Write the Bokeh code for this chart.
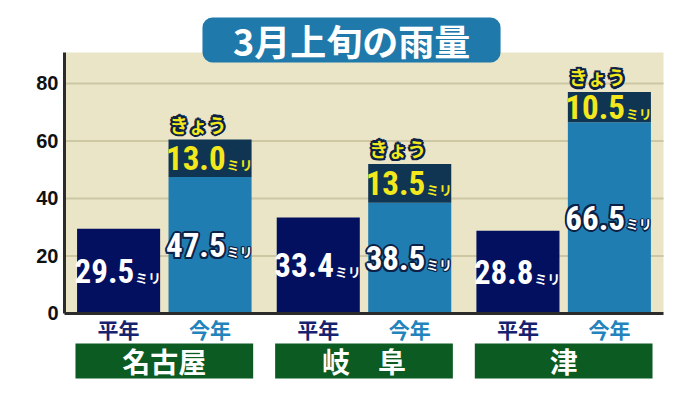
import subprocess
import numpy as np
from bokeh.plotting import figure
from bokeh.models import Range1d, FixedTicker, Label
from bokeh.core.properties import value
from bokeh.embed import file_html
from bokeh.resources import INLINE

# ---------------- data ----------------
title_text = "3月上旬の雨量"
cities = ["名古屋", "岐　阜", "津"]
series_labels = ["平年", "今年"]
normal = [29.5, 33.4, 28.8]            # 平年
this_year_before = [47.5, 38.5, 66.5]  # 今年 (きのうまで)
today = [13.0, 13.5, 10.5]             # きょう
y_ticks = [0, 20, 40, 60, 80]
unit = "ミリ"
unit_axis = "(ミリ)"
today_label = "きょう"

# ---------------- fonts ----------------
try:
    fams = subprocess.run(["fc-list", ":", "family"], capture_output=True, text=True).stdout
except Exception:
    fams = ""
NUM = "Roboto"
for cand in ["Roboto Condensed", "Barlow Condensed", "Archivo Narrow", "Liberation Sans Narrow"]:
    if cand in fams:
        NUM = cand
        break
NUM_SIZE = "33px" if NUM != "Roboto" else "29px"
JP = "Noto Sans CJK JP"

# ---------------- style ----------------
C_NORMAL = "#03105F"
C_THIS = "#1F7DB1"
C_TODAY = "#0F3553"
C_BEIGE = "#E9E5C6"
C_GRID = "#CDC8A3"
C_GREEN = "#0B5B22"
C_YELLOW = "#F3E81C"
C_OUT = "#0C2146"

W, H = 700, 393
p = figure(width=W, height=H, output_backend="svg", toolbar_location=None,
           x_range=Range1d(-0.02, 3.1853), y_range=Range1d(-27.83, 108.87),
           x_axis_location=None, min_border_left=60, min_border_right=0,
           min_border_top=0, min_border_bottom=0)
p.background_fill_color = "white"
p.border_fill_color = "white"
p.outline_line_color = None
p.grid.visible = False

ax = p.yaxis[0]
ax.ticker = FixedTicker(ticks=y_ticks)
ax.axis_line_color = None
ax.major_tick_line_color = None
ax.minor_tick_line_color = None
ax.major_tick_out = 0
ax.major_tick_in = 0
ax.major_label_text_font = "Liberation Sans"
ax.major_label_text_font_style = "bold"
ax.major_label_text_font_size = "20px"
ax.major_label_text_color = "#111111"
ax.major_label_standoff = 2

n = len(cities)
top_val = 90.8
idx = np.arange(n)
xc = idx + 0.5
bw = 0.416
x_norm = xc - 0.229
x_this = xc + 0.229
normal_a = np.array(normal)
before_a = np.array(this_year_before)
today_a = np.array(today)
totals = before_a + today_a

OFFS = [(-2, 0), (2, 0), (0, -2), (0, 2), (-1.5, -1.5), (1.5, -1.5), (-1.5, 1.5), (1.5, 1.5)]

# plot background + grid
p.quad(left=0, right=n, bottom=0, top=top_val, fill_color=C_BEIGE, line_color=None)
p.segment(x0=[0] * 4, x1=[n] * 4, y0=y_ticks[1:], y1=y_ticks[1:], line_color=C_GRID, line_width=2)

# title box
p.quad(left=0.691, right=2.184, bottom=87.3, top=102.96, fill_color="#1F79AB",
       line_color=None, border_radius=10)
p.text(x=[1.4375], y=[95.1], text=[title_text], text_align="center", text_baseline="middle",
       text_font=value(JP), text_font_style="bold", text_font_size="36px", text_color="white")

# bars
p.vbar(x=x_norm, bottom=0, top=normal_a, width=bw, fill_color=C_NORMAL, line_color=None)
p.vbar(x=x_this, bottom=0, top=before_a, width=bw, fill_color=C_THIS, line_color=None)
p.vbar(x=x_this, bottom=before_a, top=totals, width=bw, fill_color=C_TODAY, line_color=None)

# axis lines
p.segment(x0=[0], y0=[0], x1=[0], y1=[top_val], line_color="#2B2B2B", line_width=3)
p.segment(x0=[0], y0=[0], x1=[n], y1=[0], line_color="#2B2B2B", line_width=3)

NUM_DY = 0
UNIT_DY = 6


def value_labels(xs, mids, vals, color, outline=None):
    txt = [f"{v:.1f}" for v in vals]
    units = [unit] * len(txt)
    if outline:
        for dx, dy in OFFS:
            p.text(x=xs + 0.078, y=mids, text=txt, text_align="right", text_baseline="middle",
                   x_offset=dx, y_offset=NUM_DY + dy, text_font=value(NUM), text_font_style="bold",
                   text_font_size=NUM_SIZE, text_color=outline)
            p.text(x=xs + 0.082, y=mids, text=units, text_align="left", text_baseline="middle",
                   x_offset=dx * 0.6, y_offset=UNIT_DY + dy * 0.6, text_font=value(JP),
                   text_font_style="bold", text_font_size="13px", text_color=outline)
    p.text(x=xs + 0.078, y=mids, text=txt, text_align="right", text_baseline="middle",
           y_offset=NUM_DY, text_font=value(NUM), text_font_style="bold", text_font_size=NUM_SIZE,
           text_color=color)
    p.text(x=xs + 0.082, y=mids, text=units, text_align="left", text_baseline="middle",
           y_offset=UNIT_DY, text_font=value(JP), text_font_style="bold", text_font_size="13px",
           text_color=color)


value_labels(x_norm, normal_a / 2, normal, "white")
value_labels(x_this, before_a / 2, this_year_before, "white", outline=C_OUT)
value_labels(x_this, (before_a + totals) / 2, today, C_YELLOW)

# きょう labels with dark outline
for dx, dy in [(-2.5, 0), (2.5, 0), (0, -2.5), (0, 2.5), (-1.8, -1.8), (1.8, -1.8), (-1.8, 1.8), (1.8, 1.8)]:
    p.text(x=x_this - bw / 2, y=totals, text=[today_label] * n, text_align="left", text_baseline="bottom",
           x_offset=dx + 1, y_offset=-2 + dy, text_font=value(JP), text_font_style="bold",
           text_font_size="19px", text_color=C_OUT)
p.text(x=x_this - bw / 2, y=totals, text=[today_label] * n, text_align="left", text_baseline="bottom",
       x_offset=1, y_offset=-2, text_font=value(JP), text_font_style="bold", text_font_size="19px",
       text_color=C_YELLOW)

# series labels under bars
p.text(x=x_norm, y=[-5.4] * n, text=[series_labels[0]] * n, text_align="center", text_baseline="middle",
       text_font=value(JP), text_font_style="bold", text_font_size="21px", text_color="#17226E")
p.text(x=x_this, y=[-5.4] * n, text=[series_labels[1]] * n, text_align="center", text_baseline="middle",
       text_font=value(JP), text_font_style="bold", text_font_size="21px", text_color="#2383BC")

# city boxes
p.quad(left=idx + 0.055, right=idx + 0.945, bottom=-22.6, top=-10.43, fill_color=C_GREEN, line_color=None)
p.text(x=xc, y=[-16.5] * n, text=cities, text_align="center", text_baseline="middle",
       text_font=value(JP), text_font_style="bold", text_font_size="28px", text_color="white")

# unit under the top tick
p.add_layout(Label(x=-0.095, y=73.7, text=unit_axis, text_align="center", text_baseline="middle",
                   text_font=JP, text_font_style="bold", text_font_size="11px", text_color="#111111"))

open("out.html", "w").write(file_html(p, INLINE))
